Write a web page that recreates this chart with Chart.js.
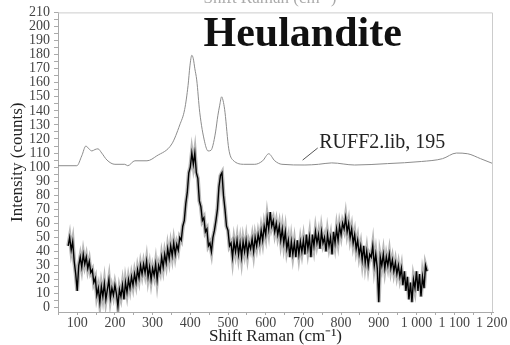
<!DOCTYPE html>
<html>
<head>
<meta charset="utf-8">
<title>Heulandite Raman spectrum</title>
<script src="https://cdn.jsdelivr.net/npm/chart.js@4/dist/chart.umd.min.js"></script>
<style>
  html, body { margin: 0; padding: 0; background: #fff; }
</style>
</head>
<body>
<canvas id="spectrum" width="510" height="345"></canvas>
<script>
// measured spectrum, sampled every 4 cm-1 from 76 cm-1
const ramanStart = 76;
const ramanStep = 4;
const ramanCounts = [
  44, 50, 41, 47, 33, 24, 12, 30, 36, 29,
  38, 31, 36, 28, 33, 25, 27, 18, 21, 9,
  14, 4, 15, 8, 17, 6, 13, 20, 7, 14,
  9, 16, 10, 1, 13, 8, 16, 6, 18, 11,
  20, 14, 22, 16, 24, 18, 27, 21, 30, 24,
  31, 25, 33, 22, 29, 20, 28, 23, 31, 20,
  30, 26, 36, 29, 38, 32, 42, 35, 44, 37,
  46, 38, 45, 41, 50, 48, 58, 62, 74, 82,
  96, 100, 110, 102, 110, 96, 92, 76, 72, 62,
  64, 54, 56, 44, 46, 40, 50, 55, 62, 70,
  86, 94, 96, 80, 70, 58, 55, 44, 46, 36,
  47, 40, 48, 38, 46, 36, 47, 40, 48, 38,
  46, 42, 49, 40, 50, 44, 52, 46, 55, 48,
  58, 52, 64, 56, 68, 58, 62, 54, 60, 52,
  58, 48, 56, 46, 54, 42, 48, 36, 47, 38,
  46, 36, 48, 38, 47, 40, 48, 38, 52, 42,
  50, 36, 52, 44, 54, 46, 52, 42, 54, 46,
  50, 40, 52, 44, 50, 38, 54, 46, 56, 48,
  58, 52, 60, 56, 64, 54, 60, 50, 56, 46,
  52, 42, 48, 38, 44, 34, 44, 32, 40, 30,
  38, 36, 44, 30, 38, 28, 4, 36, 30, 38,
  28, 36, 30, 38, 28, 34, 26, 32, 24, 30,
  22, 28, 16, 26, 12, 22, 6, 18, 4, 20,
  14, 26, 12, 24, 8, 22, 14, 30, 26
];

// library reference spectrum (RUFF2.lib, 195)
const refShift = [49, 99, 112, 123, 131, 139, 147, 155, 165, 179, 200, 226, 234, 253, 285, 311,
  351, 372, 385, 394, 399, 404, 408, 412, 417, 425, 438, 447, 455, 460, 467, 473, 478, 483, 488,
  492, 502, 513, 545, 571, 592, 608, 624, 643, 704, 740, 775, 836, 923, 1013, 1069, 1106, 1136,
  1170, 1203];
const refCounts = [101, 101, 108, 115, 113, 111.5, 112.5, 113, 110, 105, 102, 102, 101, 104.5, 104.5, 108,
  116.5, 130, 141, 158, 172, 179.5, 177, 170, 162, 139, 118, 111.5, 112, 115.5, 125, 136.5, 144, 150, 146,
  139, 113, 105, 102, 102, 104.5, 109.5, 104.5, 102, 101.5, 102, 103, 101.5, 102.5, 104, 106, 110, 109.5,
  106, 102.5];

const xTickLabels = [100, 200, 300, 400, 500, 600, 700, 800, 900, 1000, 1100, 1200];
const yTickLabels = [0, 10, 20, 30, 40, 50, 60, 70, 80, 90, 100, 110, 120, 130, 140, 150, 160, 170, 180, 190, 200, 210];

const titleText = 'Heulandite';
const refLabel = 'RUFF2.lib, 195';
const axisTitleX = 'Shift Raman (cm⁻¹)';
const axisTitleY = 'Intensity (counts)';

const serif = '"Liberation Serif", "Times New Roman", serif';

// majors plus a minor tick halfway between each pair
function withMinors(majors, half) {
  const out = [];
  majors.forEach(function (v, i) {
    if (i == 0) out.push(v - half);
    out.push(v);
    if (i < majors.length - 1) out.push(v + half);
  });
  return out;
}

function fmtShift(v) {
  return v >= 1000 ? Math.floor(v / 1000) + ' ' + String(v % 1000).padStart(3, '0') : String(v);
}

const measured = ramanCounts.map((c, i) => ({ x: ramanStart + i * ramanStep, y: c }));
const reference = refShift.map((s, i) => ({ x: s, y: refCounts[i] }));

const decor = {
  id: 'decor',
  afterDraw(chart) {
    const { ctx, chartArea: a, scales: { x, y } } = chart;
    ctx.save();

    // light frame on top and right
    ctx.strokeStyle = '#cccccc';
    ctx.lineWidth = 1;
    ctx.beginPath();
    ctx.moveTo(a.left, a.top + 0.5);
    ctx.lineTo(a.right - 0.5, a.top + 0.5);
    ctx.lineTo(a.right - 0.5, a.bottom);
    ctx.stroke();

    // top axis title, runs off the top edge
    ctx.fillStyle = '#aaaaaa';
    ctx.font = '17px ' + serif;
    ctx.textAlign = 'center';
    ctx.textBaseline = 'alphabetic';
    ctx.fillText(axisTitleX, 270, 3);

    // mineral name
    ctx.fillStyle = '#111111';
    ctx.font = 'bold 42px ' + serif;
    ctx.fillText(titleText, x.getPixelForValue(698), y.getPixelForValue(186));

    // reference label with leader line
    ctx.strokeStyle = '#555555';
    ctx.beginPath();
    ctx.moveTo(x.getPixelForValue(698), y.getPixelForValue(105));
    ctx.lineTo(x.getPixelForValue(738), y.getPixelForValue(113.6));
    ctx.stroke();
    ctx.fillStyle = '#222222';
    ctx.font = '20px ' + serif;
    ctx.textAlign = 'left';
    ctx.fillText(refLabel, x.getPixelForValue(742), y.getPixelForValue(113.6));

    ctx.restore();
  }
};

new Chart(document.getElementById('spectrum'), {
  type: 'line',
  data: {
    datasets: [{
      label: refLabel,
      data: reference,
      borderColor: '#8c8c8c',
      borderWidth: 1,
      pointRadius: 0,
      cubicInterpolationMode: 'monotone',
      tension: 0.4,
      fill: false
    }, {
      // soft grey spread behind the noisy trace
      label: 'Heulandite spread',
      data: measured,
      borderColor: 'rgba(0,0,0,0.28)',
      borderWidth: 4,
      pointRadius: 0,
      tension: 0,
      fill: false
    }, {
      label: 'Heulandite',
      data: measured,
      borderColor: '#000000',
      borderWidth: 1.4,
      pointRadius: 0,
      tension: 0,
      fill: false
    }]
  },
  options: {
    responsive: false,
    animation: false,
    layout: { padding: { left: 0, right: 17, top: 8, bottom: 0 } },
    plugins: {
      legend: { display: false },
      tooltip: { enabled: false }
    },
    scales: {
      x: {
        type: 'linear',
        min: 49,
        max: 1203,
        afterBuildTicks: s => { s.ticks = withMinors(xTickLabels, 50).map(v => ({ value: v })); },
        afterFit: s => { s.height = 33; },
        grid: { drawOnChartArea: false, drawTicks: true, tickLength: 3, color: '#aaaaaa' },
        border: { color: '#aaaaaa' },
        ticks: {
          autoSkip: false,
          maxRotation: 0,
          padding: 0,
          color: '#444444',
          font: { size: 14, family: serif, lineHeight: 1.2 },
          callback: v => (v % 100 ? '' : fmtShift(v))
        },
        title: {
          display: true,
          text: axisTitleX,
          color: '#222222',
          padding: 0,
          font: { size: 17, family: serif, lineHeight: 1.0 }
        }
      },
      y: {
        min: -3,
        max: 210,
        afterBuildTicks: s => { s.ticks = withMinors(yTickLabels, 5).filter(v => v >= 0 && v <= 210).map(v => ({ value: v })); },
        afterFit: s => { s.width = 58; },
        grid: { drawOnChartArea: false, drawTicks: true, tickLength: 4, color: '#aaaaaa' },
        border: { color: '#aaaaaa' },
        ticks: {
          autoSkip: false,
          padding: 4,
          color: '#444444',
          font: { size: 14, family: serif },
          callback: v => (v % 10 ? '' : v)
        },
        title: {
          display: true,
          text: axisTitleY,
          color: '#222222',
          padding: { top: 7, bottom: 0 },
          font: { size: 17, family: serif, lineHeight: 1.2 }
        }
      }
    }
  },
  plugins: [decor]
});
</script>
</body>
</html>
